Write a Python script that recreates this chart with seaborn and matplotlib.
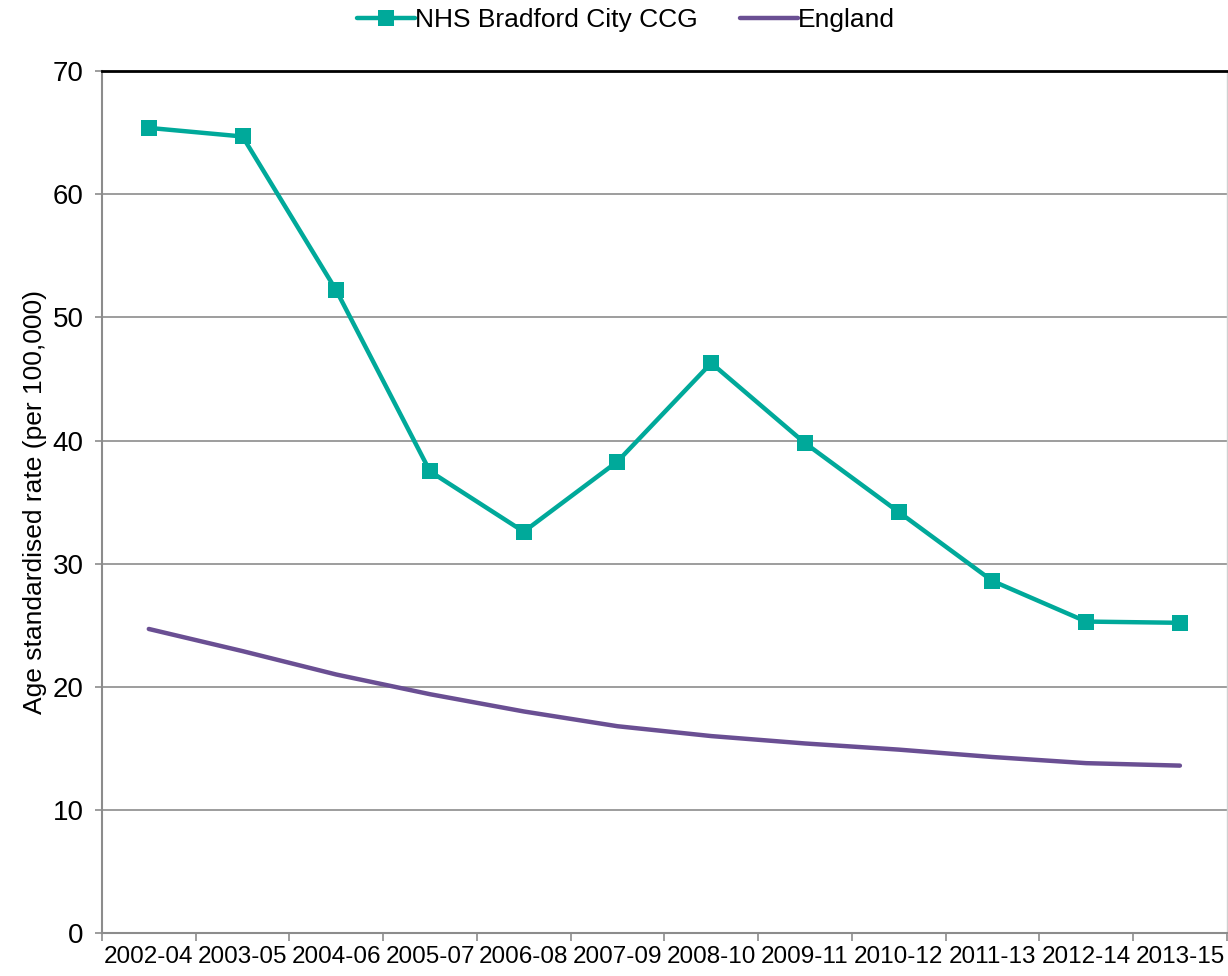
import numpy as np
import pandas as pd
import seaborn as sns
import matplotlib.pyplot as plt
from matplotlib.ticker import FixedLocator, NullFormatter

periods = ['2002-04', '2003-05', '2004-06', '2005-07', '2006-08', '2007-09',
           '2008-10', '2009-11', '2010-12', '2011-13', '2012-14', '2013-15']
bradford = [65.4, 64.7, 52.2, 37.5, 32.6, 38.3, 46.3, 39.8, 34.2, 28.6, 25.3, 25.2]
england = [24.7, 22.9, 21.0, 19.4, 18.0, 16.8, 16.0, 15.4, 14.9, 14.3, 13.8, 13.6]

teal = '#00A99A'
purple = '#6A4F93'
grid_grey = '#8C8C8C'

sns.set_style('white')
plt.rcParams['font.family'] = ['Liberation Sans', 'DejaVu Sans']
plt.rcParams['text.color'] = 'black'
plt.rcParams['axes.labelcolor'] = 'black'
plt.rcParams['xtick.labelcolor'] = 'black'
plt.rcParams['ytick.labelcolor'] = 'black'

df = pd.DataFrame({'pos': np.arange(len(periods)), 'period': periods,
                   'bradford': bradford, 'england': england})

fig = plt.figure(figsize=(12.28, 9.76), dpi=100)
ax = fig.add_axes([0.083, 0.044, 0.916, 0.883])

sns.lineplot(data=df, x='pos', y='bradford', ax=ax, color=teal, linewidth=3.2,
             marker='s', markersize=11, markeredgewidth=0, label='NHS Bradford City CCG')
sns.lineplot(data=df, x='pos', y='england', ax=ax, color=purple, linewidth=3.2,
             label='England')

ax.set_ylim(0, 70)
ax.set_xlim(-0.5, len(periods) - 0.5)
ax.set_yticks(np.arange(0, 71, 10))
ax.yaxis.grid(True, color=grid_grey, linewidth=1.2)
ax.set_axisbelow(True)

# category boundaries carry the tick marks, labels sit in the middle
ax.xaxis.set_major_locator(FixedLocator(np.arange(-0.5, len(periods), 1)))
ax.xaxis.set_major_formatter(NullFormatter())
ax.xaxis.set_minor_locator(FixedLocator(df['pos']))
ax.set_xticklabels(periods, minor=True)
ax.tick_params(axis='x', which='major', direction='out', length=6, width=1.2,
               color=grid_grey, bottom=True)
ax.tick_params(axis='x', which='minor', length=0, pad=9, labelsize=17.5)
ax.tick_params(axis='y', direction='out', length=5, width=1.2, color=grid_grey,
               left=True, pad=8, labelsize=20)

for side in ['left', 'bottom', 'right']:
    ax.spines[side].set_color(grid_grey)
    ax.spines[side].set_linewidth(1.5)
ax.spines['right'].set_color('#D0D0D0')
ax.spines['right'].set_linewidth(1.0)
ax.spines['top'].set_color('black')
ax.spines['top'].set_linewidth(2)

ax.set_xlabel('')
ax.set_ylabel('Age standardised rate (per 100,000)', fontsize=19, labelpad=4)

ax.get_legend().remove()
handles, labels = ax.get_legend_handles_labels()
fig.legend(handles, labels, loc='upper center', bbox_to_anchor=(0.51, 1.016), ncol=2,
           frameon=False, fontsize=19, handlelength=2.2, handletextpad=0.0,
           columnspacing=1.6)

fig.savefig('out.png', dpi=100)
